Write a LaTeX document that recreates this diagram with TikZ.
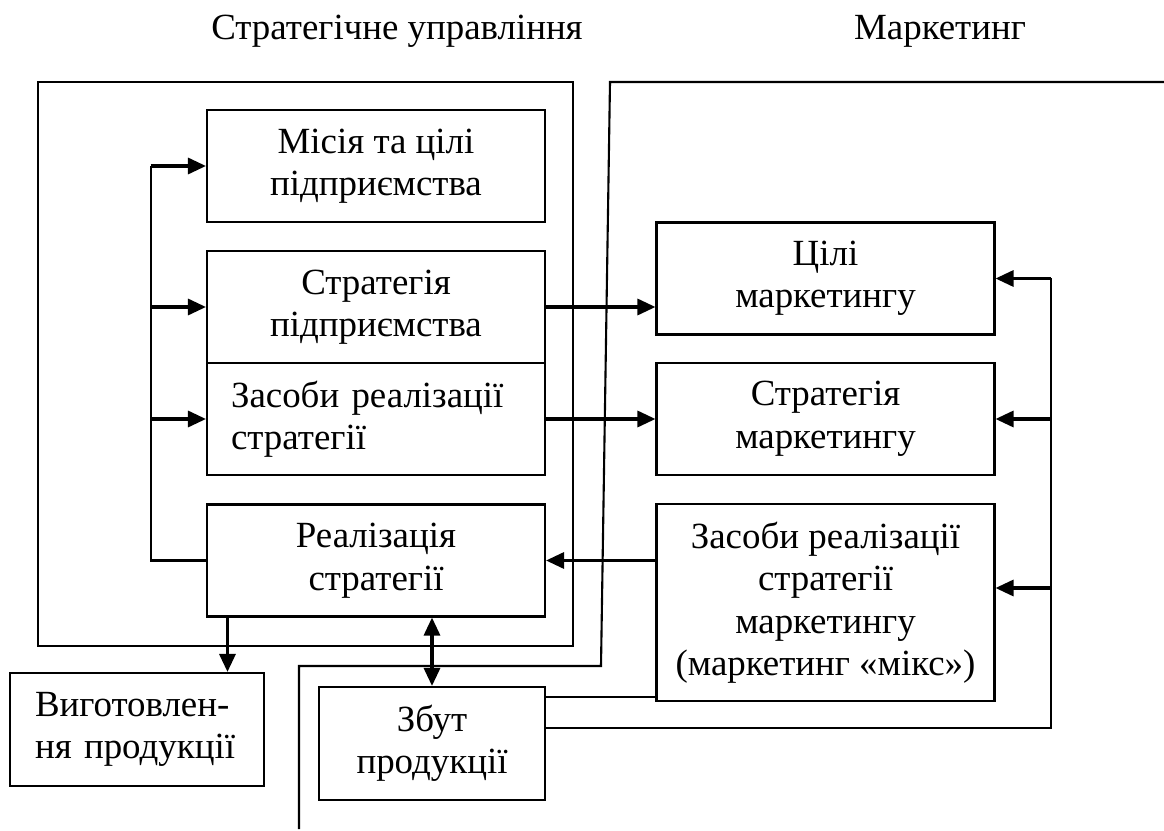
\documentclass[tikz,border=0pt]{standalone}
\usepackage{fontspec}
\setmainfont{Liberation Serif}
\usetikzlibrary{arrows.meta}

\begin{document}
\begin{tikzpicture}[
    >={Triangle[length=3.6mm,width=3.2mm]},
    x=0.02cm,
    y=-0.02cm,
    box/.style={draw, line width=1.2pt, inner sep=0pt, align=center,
        minimum width=6.76cm, minimum height=2.24cm,
        font=\fontsize{21pt}{24.2pt}\selectfont},
    title/.style={anchor=base, font=\fontsize{21pt}{24.2pt}\selectfont},
    link/.style={line width=1.2pt},
    flow/.style={->, line width=1.8pt}
]
\useasboundingbox (0,0) rectangle (1164,831);

% 1. Section titles
\node[title] (tstrat) at (397,40) {Стратегічне управління};
\node[title] (tmark) at (940,40) {Маркетинг};

% 2. Frames of the two areas
\draw[link] (38,82) rectangle (573,646);
\draw[link] (1164,82) -- (610,82) -- (601,666) -- (299,666) -- (299,829);

% 3. Strategic management boxes
\node[box] (mission) at (376,166) {Місія та цілі\\підприємства};
\node[box] (strat) at (376,307) {Стратегія\\підприємства};
\node[box, align=left, text width=5.8cm] (means) at (376,419) {Засоби реалізації\\стратегії};
\node[box] (real) at (376,560.5) {Реалізація\\стратегії};

% 4. Marketing boxes
\node[box] (mgoal) at (825.5,278.5) {Цілі\\маркетингу};
\node[box] (mstrat) at (825.5,419) {Стратегія\\маркетингу};
\node[box, minimum height=3.94cm] (mmeans) at (825.5,602.5)
    {Засоби реалізації\\стратегії\\маркетингу\\(маркетинг «мікс»)};

% 5. Production and sales
\node[box, align=left, text width=4.08cm, minimum width=5.08cm, minimum height=2.26cm]
    (prod) at (137,729.5) {Виготовлен-\\ня продукції};
\node[box, minimum width=4.52cm, minimum height=2.26cm] (sales) at (432,743.5) {Збут\\продукції};

% 6. Feedback loop on the left
\coordinate (fbx) at (150.6,0);
\draw[link] (real.west) -| (fbx |- mission.west);
\draw[flow] (fbx |- mission.west) -- (mission.west);
\draw[flow] (fbx |- strat.west) -- (strat.west);
\draw[flow] (fbx |- means.west) -- (means.west);

% 7. Links between the two areas
\draw[flow] (strat.east) -- (strat.east -| mgoal.west);
\draw[flow] (means.east) -- (mstrat.west);
\draw[flow] (real.east -| mmeans.west) -- (real.east);

% 8. Sales feedback bus on the right
\coordinate (busx) at (1051,0);
\coordinate (s1) at ([yshift=-0.22cm]sales.north east);
\coordinate (s2) at ([yshift=-0.84cm]sales.north east);
\coordinate (bm) at (1051,588);
\draw[link] (s1) -- (s1 -| mmeans.west);
\draw[link] (s2) -| (busx |- mgoal.east);
\draw[flow] (busx |- mgoal.east) -- (mgoal.east);
\draw[flow] (busx |- mstrat.east) -- (mstrat.east);
\draw[flow] (bm) -- (bm -| mmeans.east);

% 9. Output of the realisation
\coordinate (r1) at ([xshift=0.43cm]real.south west);
\draw[flow] (r1) -- (r1 |- prod.north);
\draw[flow, <->] (real.south -| sales.north) -- (sales.north);

\end{tikzpicture}
\end{document}
